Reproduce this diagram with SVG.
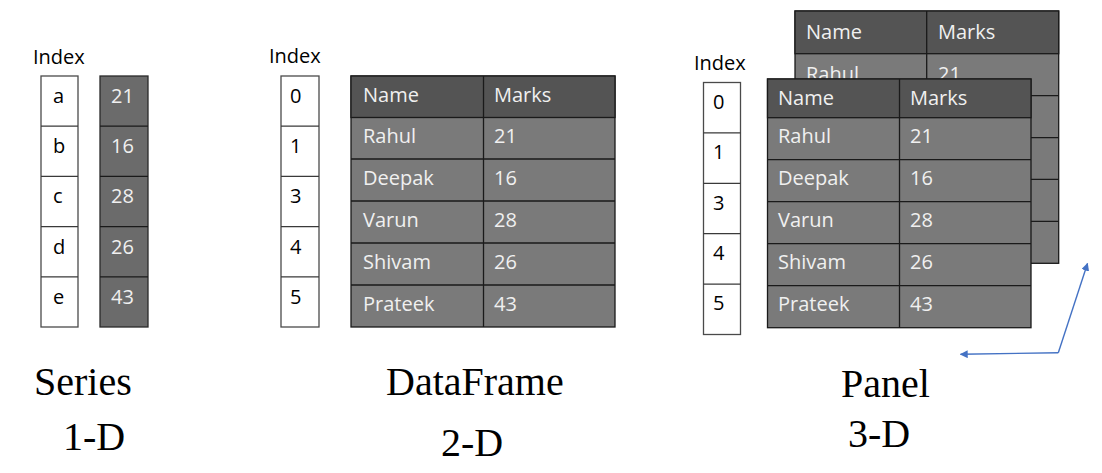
<svg xmlns="http://www.w3.org/2000/svg" width="1102" height="473" viewBox="0 0 1102 473">
  <defs>
    <style>
      .ui { font-family: "Open Sans", "Liberation Sans", sans-serif; font-size: 20px; }
      .lbl { fill: #000000; }
      .val { fill: #f0f0f0; }
      .title { font-family: "Liberation Serif", "Times New Roman", serif; font-size: 40px; fill: #000000; }
      .idx { fill: #ffffff; stroke: #4a4a4a; stroke-width: 1.3; }
      .col { fill: #6b6b6b; stroke: #2a2a2a; stroke-width: 1.3; }
      .head { fill: #545454; stroke: #1a1a1a; stroke-width: 1.3; }
      .body { fill: #7a7a7a; stroke: #1a1a1a; stroke-width: 1.3; }
      .grid { stroke: #1a1a1a; stroke-width: 1.3; fill: none; }
      .idxgrid { stroke: #3a3a3a; stroke-width: 1.3; fill: none; }
      .arrow { stroke: #4472c4; stroke-width: 1.4; fill: none; }
    </style>
    <marker id="tip" viewBox="0 0 10 10" refX="9" refY="5" markerWidth="8" markerHeight="8" markerUnits="userSpaceOnUse" orient="auto">
      <path d="M0,0 L10,5 L0,10 z" fill="#4472c4"/>
    </marker>
  </defs>

  <!-- Series: index column and one column of values -->
  <g id="series">
    <text class="ui lbl" x="33" y="64">Index</text>
    <rect class="idx" x="41" y="76" width="37" height="251"/>
    <path class="idxgrid" d="M41,126.2 H78 M41,176.4 H78 M41,226.6 H78 M41,276.8 H78"/>
    <text class="ui lbl" x="53" y="103">a</text>
    <text class="ui lbl" x="53" y="153">b</text>
    <text class="ui lbl" x="53" y="203">c</text>
    <text class="ui lbl" x="53" y="254">d</text>
    <text class="ui lbl" x="53" y="304">e</text>
    <rect class="col" x="100" y="76" width="48" height="251"/>
    <path class="grid" d="M100,126.2 H148 M100,176.4 H148 M100,226.6 H148 M100,276.8 H148"/>
    <text class="ui val" x="111" y="103">21</text>
    <text class="ui val" x="111" y="153">16</text>
    <text class="ui val" x="111" y="203">28</text>
    <text class="ui val" x="111" y="254">26</text>
    <text class="ui val" x="111" y="304">43</text>
    <text class="title" x="34" y="395">Series</text>
    <text class="title" x="63" y="450">1-D</text>
  </g>

  <!-- DataFrame: index column and a two-column table -->
  <g id="dataframe">
    <text class="ui lbl" x="269" y="63">Index</text>
    <rect class="idx" x="281" y="76" width="38" height="251"/>
    <path class="idxgrid" d="M281,126.2 H319 M281,176.4 H319 M281,226.6 H319 M281,276.8 H319"/>
    <text class="ui lbl" x="290" y="103">0</text>
    <text class="ui lbl" x="290" y="153">1</text>
    <text class="ui lbl" x="290" y="203">3</text>
    <text class="ui lbl" x="290" y="254">4</text>
    <text class="ui lbl" x="290" y="304">5</text>
    <rect class="body" x="351" y="76" width="264" height="251"/>
    <rect class="head" x="351" y="76" width="264" height="41.5"/>
    <path class="grid" d="M483.5,76 V327 M351,159 H615 M351,201 H615 M351,243 H615 M351,285 H615"/>
    <text class="ui val" x="363" y="102">Name</text>
    <text class="ui val" x="494" y="102">Marks</text>
    <text class="ui val" x="363" y="143">Rahul</text>
    <text class="ui val" x="494" y="143">21</text>
    <text class="ui val" x="363" y="185">Deepak</text>
    <text class="ui val" x="494" y="185">16</text>
    <text class="ui val" x="363" y="227">Varun</text>
    <text class="ui val" x="494" y="227">28</text>
    <text class="ui val" x="363" y="269">Shivam</text>
    <text class="ui val" x="494" y="269">26</text>
    <text class="ui val" x="363" y="311">Prateek</text>
    <text class="ui val" x="494" y="311">43</text>
    <text class="title" x="386" y="395">DataFrame</text>
    <text class="title" x="441" y="456">2-D</text>
  </g>

  <!-- Panel: a stack of tables sharing one index -->
  <g id="panel">
    <text class="ui lbl" x="694" y="70">Index</text>
    <rect class="idx" x="703.5" y="82.5" width="37" height="252"/>
    <path class="idxgrid" d="M703.5,132.9 H740.5 M703.5,183.3 H740.5 M703.5,233.7 H740.5 M703.5,284.1 H740.5"/>
    <text class="ui lbl" x="713" y="109">0</text>
    <text class="ui lbl" x="713" y="159">1</text>
    <text class="ui lbl" x="713" y="210">3</text>
    <text class="ui lbl" x="713" y="260">4</text>
    <text class="ui lbl" x="713" y="310">5</text>

    <g id="panel-back">
      <rect class="body" x="795" y="11" width="263.7" height="252.3"/>
      <rect class="head" x="795" y="11" width="263.7" height="42.7"/>
      <path class="grid" d="M926.7,11 V263.3 M795,95.7 H1058.7 M795,137.7 H1058.7 M795,179.3 H1058.7 M795,221.3 H1058.7"/>
      <text class="ui val" x="806" y="39">Name</text>
      <text class="ui val" x="938" y="39">Marks</text>
      <text class="ui val" x="806" y="81">Rahul</text>
      <text class="ui val" x="938" y="81">21</text>
    </g>

    <g id="panel-front">
      <rect class="body" x="767.5" y="79" width="263.5" height="248.7"/>
      <rect class="head" x="767.5" y="79" width="263.5" height="38.7"/>
      <path class="grid" d="M899.5,79 V327.7 M767.5,159.7 H1031 M767.5,201.7 H1031 M767.5,243.7 H1031 M767.5,285.7 H1031"/>
      <text class="ui val" x="778" y="105">Name</text>
      <text class="ui val" x="910" y="105">Marks</text>
      <text class="ui val" x="778" y="143">Rahul</text>
      <text class="ui val" x="910" y="143">21</text>
      <text class="ui val" x="778" y="185">Deepak</text>
      <text class="ui val" x="910" y="185">16</text>
      <text class="ui val" x="778" y="227">Varun</text>
      <text class="ui val" x="910" y="227">28</text>
      <text class="ui val" x="778" y="269">Shivam</text>
      <text class="ui val" x="910" y="269">26</text>
      <text class="ui val" x="778" y="311">Prateek</text>
      <text class="ui val" x="910" y="311">43</text>
    </g>

    <text class="title" x="841" y="397">Panel</text>
    <text class="title" x="848" y="447">3-D</text>
  </g>

  <!-- Axis arrows for the stacked panel -->
  <g id="connectors">
    <path class="arrow" d="M1058.3,352.7 L1087.5,263.5" marker-end="url(#tip)"/>
    <path class="arrow" d="M1058.3,352.7 L960.5,354.3" marker-end="url(#tip)"/>
  </g>
</svg>
